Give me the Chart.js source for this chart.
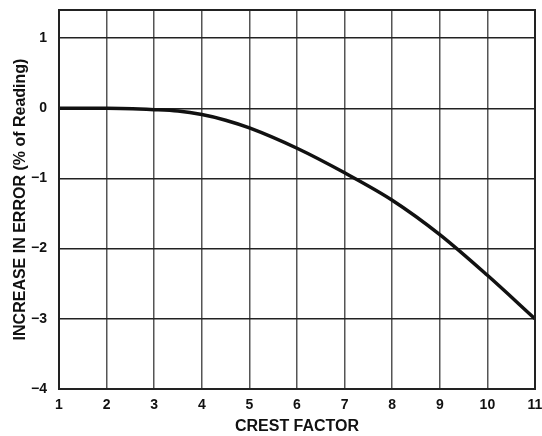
<!DOCTYPE html>
<html>
<head>
<meta charset="utf-8">
<script src="https://cdn.jsdelivr.net/npm/chart.js@4/dist/chart.umd.min.js"></script>
<style>
  html, body { margin: 0; padding: 0; background: #fff; }
  #wrap { width: 542px; height: 436px; }
</style>
</head>
<body>
<div id="wrap"><canvas id="mycanvas" width="542" height="436"></canvas></div>
<script>
// values
var crestFactor = [1, 2, 3, 3.5, 4, 4.5, 5, 6, 7, 8, 9, 10, 11];
var errorPct = [0, 0, -0.02, -0.04, -0.09, -0.17, -0.28, -0.57, -0.92, -1.31, -1.8, -2.38, -3.0];
var yTicks = [-4, -3, -2, -1, 0, 1];

var points = [];
for (var i in crestFactor) {
	points.push({ x: crestFactor[i], y: errorPct[i] });
}

var frame = {
	id: 'frame',
	afterDatasetsDraw: function(chart) {
		var a = chart.chartArea, c = chart.ctx;
		c.save();
		c.strokeStyle = '#222';
		c.lineWidth = 2;
		c.strokeRect(a.left, a.top, a.right - a.left, a.bottom - a.top);
		c.restore();
	}
};

Chart.defaults.font.family = 'Arial, "Liberation Sans", Helvetica, sans-serif';
Chart.defaults.font.weight = 'bold';
Chart.defaults.color = '#111';

new Chart(document.getElementById('mycanvas'), {
	type: 'line',
	data: {
		datasets: [{
			data: points,
			borderColor: '#111',
			borderWidth: 3.5,
			pointRadius: 0,
			fill: false,
			cubicInterpolationMode: 'monotone'
		}]
	},
	options: {
		responsive: false,
		animation: false,
		layout: { padding: { top: 10, right: 7, left: 0, bottom: 0 } },
		plugins: { legend: { display: false }, tooltip: { enabled: false } },
		scales: {
			x: {
				type: 'linear',
				min: 1,
				max: 11,
				ticks: { stepSize: 1, padding: 8, maxRotation: 0, font: { size: 14, weight: 'bold' } },
				grid: { color: '#555', lineWidth: 1.5, drawTicks: false },
				border: { display: false },
				title: { display: true, text: 'CREST FACTOR', font: { size: 16, weight: 'bold' }, padding: { top: 2, bottom: 0 } },
				afterFit: function(s) { s.height = 47; s.paddingLeft = 0; s.paddingRight = 0; }
			},
			y: {
				min: -4,
				max: 1.4,
				afterBuildTicks: function(s) {
					s.ticks = yTicks.map(function(v) { return { value: v }; });
				},
				ticks: {
					padding: 12,
					font: { size: 14, weight: 'bold' },
					callback: function(v) { return v < 0 ? '\u2212' + Math.abs(v) : String(v); }
				},
				grid: { color: '#222', lineWidth: 1.5, drawTicks: false },
				border: { display: false },
				title: { display: true, text: 'INCREASE IN ERROR (% of Reading)', font: { size: 16, weight: 'bold' }, padding: { top: 11, bottom: 0 } },
				afterFit: function(s) { s.width = 59; s.paddingTop = 0; s.paddingBottom = 0; }
			}
		}
	},
	plugins: [frame]
});
</script>
</body>
</html>
